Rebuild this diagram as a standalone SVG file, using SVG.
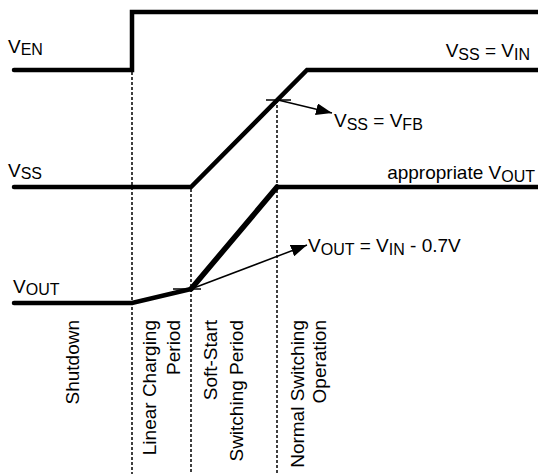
<svg xmlns="http://www.w3.org/2000/svg" width="538" height="474" viewBox="0 0 538 474">
<defs>
<style>
.sig{fill:none;stroke:#000;stroke-width:4.5;stroke-linecap:round;stroke-linejoin:miter}
.dash{fill:none;stroke:#000;stroke-width:1.5;stroke-dasharray:3,2}
.thin{fill:none;stroke:#000;stroke-width:1.5}
text{font-family:"Liberation Sans",Arial,sans-serif;font-size:19px;fill:#000}
.sub{font-size:16px}
</style>
<marker id="ahb" viewBox="0 0 16 12" refX="16" refY="6" markerWidth="16" markerHeight="12" markerUnits="userSpaceOnUse" orient="auto">
<path d="M0,0 L16,6 L0,12 z" fill="#000"/>
</marker>
</defs>
<rect width="538" height="474" fill="#fff"/>
<g id="guides">
<line class="dash" x1="132" y1="72" x2="132" y2="474"/>
<line class="dash" x1="191" y1="189" x2="191" y2="474"/>
<line class="dash" x1="277" y1="100" x2="277" y2="474"/>
</g>
<g id="connectors">
<line class="thin" x1="266" y1="100" x2="291" y2="100"/>
<line class="thin" x1="278" y1="100" x2="332" y2="113" marker-end="url(#ahb)"/>
<line class="thin" x1="173" y1="289" x2="201" y2="289"/>
<line class="thin" x1="191" y1="289" x2="307" y2="245" marker-end="url(#ahb)"/>
</g>
<g id="ven">
<path class="sig" d="M14,70 H132 V12 H540"/>
<text x="8" y="53">V<tspan class="sub" dy="2">EN</tspan></text>
</g>
<g id="vss">
<path class="sig" d="M14,187 H191 L307,70 H540"/>
<text x="8" y="177">V<tspan class="sub" dy="2">SS</tspan></text>
<text x="530" y="57" text-anchor="end">V<tspan class="sub" dy="3">SS</tspan><tspan dy="-3"> = V</tspan><tspan class="sub" dy="3">IN</tspan></text>
<text x="334" y="127">V<tspan class="sub" dy="3">SS</tspan><tspan dy="-3"> = V</tspan><tspan class="sub" dy="3">FB</tspan></text>
</g>
<g id="vout">
<path class="sig" d="M14,303 H132 L191,289"/>
<path class="sig" style="stroke-width:5.5" d="M191,289 L277,187"/>
<path class="sig" d="M277,187 H540"/>
<text x="13" y="293">V<tspan class="sub" dy="2">OUT</tspan></text>
<text x="535" y="179" text-anchor="end">appropriate V<tspan class="sub" dy="3">OUT</tspan></text>
<text x="308" y="252">V<tspan class="sub" dy="3">OUT</tspan><tspan dy="-3"> = V</tspan><tspan class="sub" dy="3">IN</tspan><tspan dy="-3"> - 0.7V</tspan></text>
</g>
<g id="periods">
<text transform="translate(79,320) rotate(-90)" text-anchor="end">Shutdown</text>
<text transform="translate(156,320) rotate(-90)" text-anchor="end">Linear Charging</text>
<text transform="translate(180,320) rotate(-90)" text-anchor="end">Period</text>
<text transform="translate(217,320) rotate(-90)" text-anchor="end">Soft-Start</text>
<text transform="translate(243,320) rotate(-90)" text-anchor="end">Switching Period</text>
<text transform="translate(304,320) rotate(-90)" text-anchor="end">Normal Switching</text>
<text transform="translate(326,320) rotate(-90)" text-anchor="end">Operation</text>
</g>
</svg>
